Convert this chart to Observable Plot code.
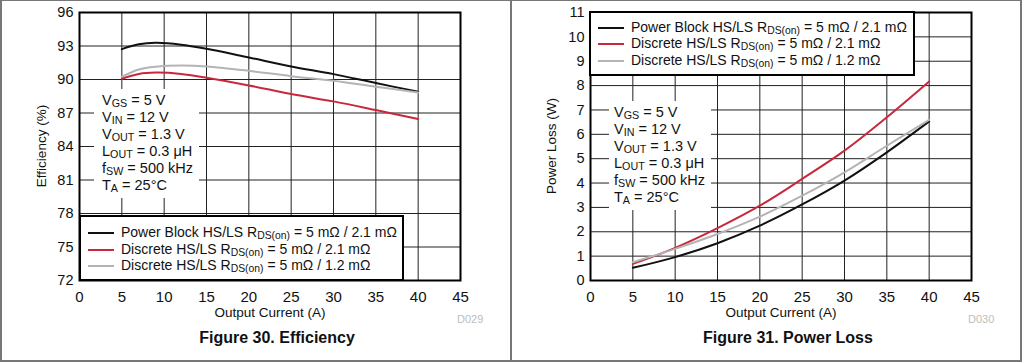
<!DOCTYPE html>
<html><head><meta charset="utf-8">
<script src="https://cdn.jsdelivr.net/npm/d3@7"></script>
<script src="https://cdn.jsdelivr.net/npm/@observablehq/plot@0.6"></script>
<style>
body{margin:0;background:#fff;font-family:"Liberation Sans",Arial,sans-serif;}
#root{position:relative;width:1024px;height:363px;overflow:hidden;}
.ov{position:absolute;white-space:nowrap;color:#111;}
.sub{font-size:0.74em;position:relative;top:0.22em;}
.ann{background:#fff;font-size:14.5px;line-height:16px;padding:0;}
.leg{background:#fff;border:2px solid #000;box-sizing:border-box;font-size:14px;}
.row{position:absolute;height:16px;line-height:16px;}
.sw{position:absolute;height:2px;width:26px;}
.cap{font-weight:bold;font-size:16px;}
.did{color:#bdbdbd;font-size:11px;}
.ttl{font-size:13.5px;}
.fr{position:absolute;background:#777;}
</style></head>
<body><div id="root"></div>
<script>
// ---- data ----
const effCurrent = [5, 7, 9, 12, 15, 20, 25, 30, 35, 40];
const effPowerBlock = [92.72, 93.15, 93.28, 93.12, 92.75, 91.97, 91.17, 90.48, 89.68, 88.9];
const effDiscrete21 = [90.07, 90.5, 90.62, 90.5, 90.15, 89.47, 88.7, 88.04, 87.26, 86.46];
const effDiscrete12 = [90.25, 90.9, 91.15, 91.25, 91.17, 90.78, 90.3, 89.89, 89.35, 88.84];

const lossCurrent = [5, 10, 15, 20, 25, 30, 35, 40];
const lossPowerBlock = [0.52, 0.96, 1.53, 2.25, 3.12, 4.1, 5.26, 6.53];
const lossDiscrete21 = [0.68, 1.34, 2.15, 3.07, 4.17, 5.33, 6.7, 8.17];
const lossDiscrete12 = [0.75, 1.3, 1.91, 2.62, 3.48, 4.44, 5.53, 6.59];

const xTicks = [0, 5, 10, 15, 20, 25, 30, 35, 40, 45];
const effTicks = [72, 75, 78, 81, 84, 87, 90, 93, 96];
const lossTicks = [0, 1, 2, 3, 4, 5, 6, 7, 8, 9, 10, 11];

const seriesNames = ["Power Block", "Discrete 2.1", "Discrete 1.2"];
const seriesColors = ["#111111", "#c8283c", "#b4b4b4"];
const legendLabels = [
  'Power Block HS/LS R<span class="sub">DS(on)</span> = 5 mΩ / 2.1 mΩ',
  'Discrete HS/LS R<span class="sub">DS(on)</span> = 5 mΩ / 2.1 mΩ',
  'Discrete HS/LS R<span class="sub">DS(on)</span> = 5 mΩ / 1.2 mΩ'
];
const conditions = [
  'V<span class="sub">GS</span> = 5 V',
  'V<span class="sub">IN</span> = 12 V',
  'V<span class="sub">OUT</span> = 1.3 V',
  'L<span class="sub">OUT</span> = 0.3 μH',
  'f<span class="sub">SW</span> = 500 kHz',
  'T<span class="sub">A</span> = 25°C'
];

function toRows(xs, list) {
  const rows = [];
  list.forEach((ys, i) => ys.forEach((y, j) => rows.push({x: xs[j], y, s: seriesNames[i]})));
  return rows;
}

function chart(rows, yDomain, yTicks, mL, mR) {
  return Plot.plot({
    width: 512, height: 363,
    marginLeft: mL, marginRight: mR, marginTop: 12, marginBottom: 83,
    style: {fontFamily: '"Liberation Sans", Arial, sans-serif', fontSize: "14.5px", color: "#111", background: "transparent"},
    x: {domain: [0, 45], ticks: xTicks, label: null},
    y: {domain: yDomain, ticks: yTicks, label: null},
    color: {domain: seriesNames, range: seriesColors},
    marks: [
      Plot.gridX(xTicks, {stroke: "#222", strokeOpacity: 1, strokeWidth: 1}),
      Plot.gridY(yTicks, {stroke: "#222", strokeOpacity: 1, strokeWidth: 1}),
      Plot.axisX(xTicks, {tickSize: 0, tickPadding: 11, fontSize: 15}),
      Plot.axisY(yTicks, {tickSize: 0, tickPadding: 6, fontSize: 14.5}),
      Plot.line(rows, {x: "x", y: "y", z: "s", stroke: "s", strokeWidth: 2, curve: "catmull-rom"}),
      Plot.frame({stroke: "#000", strokeWidth: 2})
    ]
  });
}

const root = document.getElementById("root");
function add(html, cls, style) {
  const d = document.createElement("div");
  d.className = "ov " + (cls || "");
  d.innerHTML = html;
  Object.assign(d.style, style);
  root.appendChild(d);
  return d;
}

function panel(offX, svg, cfg) {
  const holder = document.createElement("div");
  holder.style.cssText = `position:absolute;left:${offX}px;top:0;width:512px;height:363px;`;
  holder.appendChild(svg);
  root.appendChild(holder);
  add(conditions.join("<br>"), "ann", {left: (offX + cfg.annX) + "px", top: cfg.annY + "px", padding: cfg.annPad});
  const leg = add("", "leg", {left: (offX + cfg.legX) + "px", top: cfg.legY + "px", width: cfg.legW + "px", height: cfg.legH + "px"});
  legendLabels.forEach((t, i) => {
    const sw = document.createElement("div");
    sw.className = "sw";
    sw.style.cssText += `left:7px;top:${cfg.rowY[i] - 1}px;background:${seriesColors[i]};`;
    leg.appendChild(sw);
    const r = document.createElement("div");
    r.className = "row";
    r.style.cssText += `left:40px;top:${cfg.rowY[i] - 9}px;`;
    r.innerHTML = t;
    leg.appendChild(r);
  });
  add(cfg.yTitle, "ttl", {left: (offX + cfg.yTitleX - 60) + "px", top: (146 - 8) + "px", width: "120px", textAlign: "center", transform: "rotate(-90deg)", lineHeight: "16px"});
  add("Output Current (A)", "ttl", {left: (offX + cfg.xTitleX - 80) + "px", top: "305px", width: "160px", textAlign: "center", lineHeight: "16px"});
  add(cfg.cap, "cap", {left: (offX + cfg.capX - 120) + "px", top: "329px", width: "240px", textAlign: "center", lineHeight: "18px"});
  add(cfg.did, "did", {left: (offX + cfg.didX) + "px", top: "313px", lineHeight: "12px"});
}

panel(0, chart(toRows(effCurrent, [effPowerBlock, effDiscrete21, effDiscrete12]), [72, 96], effTicks, 79, 52), {
  annX: 94, annY: 89, annPad: "3px 6px 4px 8px",
  legX: 79, legY: 215, legW: 325, legH: 66, rowY: [16, 32.5, 49],
  yTitle: "Efficiency (%)", yTitleX: 42, xTitleX: 270,
  cap: "Figure 30. Efficiency", capX: 277, did: "D029", didX: 457
});
panel(512, chart(toRows(lossCurrent, [lossPowerBlock, lossDiscrete21, lossDiscrete12]), [0, 11], lossTicks, 78, 53), {
  annX: 97, annY: 101, annPad: "3px 6px 4px 5px",
  legX: 77, legY: 11, legW: 326, legH: 65, rowY: [14.5, 31, 47.5],
  yTitle: "Power Loss (W)", yTitleX: 40, xTitleX: 269,
  cap: "Figure 31. Power Loss", capX: 276, did: "D030", didX: 456
});

[[0, 0, 1022, 1], [0, 0, 2, 362], [0, 360, 1022, 2], [510, 0, 2, 362], [1020, 0, 2, 362]].forEach(([l, t, w, h]) => {
  const d = document.createElement("div");
  d.className = "fr";
  d.style.cssText += `left:${l}px;top:${t}px;width:${w}px;height:${h}px;`;
  root.appendChild(d);
});
</script></body></html>
